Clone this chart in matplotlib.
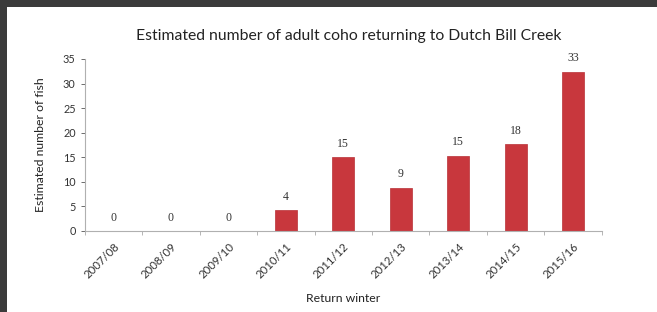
import matplotlib.pyplot as plt
from matplotlib.patches import Rectangle

# data
winters = ["2007/08", "2008/09", "2009/10", "2010/11", "2011/12",
           "2012/13", "2013/14", "2014/15", "2015/16"]
fish = [0, 0, 0, 4, 15, 9, 15, 18, 33]
# bar heights as drawn (labels are rounded counts)
bar_heights = [0, 0, 0, 4.2, 15, 8.8, 15.3, 17.6, 32.4]

plt.rcParams['font.family'] = ['Lato', 'DejaVu Sans']

fig = plt.figure(figsize=(6.57, 3.12), dpi=100)
fig.patch.set_facecolor('white')
# dark frame strips on top and left
fig.patches.append(Rectangle((0, 1 - 7 / 312), 1, 7 / 312, transform=fig.transFigure,
                             facecolor='#3b3b3b', edgecolor='none', zorder=-10))
fig.patches.append(Rectangle((0, 0), 7 / 657, 1, transform=fig.transFigure,
                             facecolor='#3b3b3b', edgecolor='none', zorder=-10))

ax = fig.add_axes([0.129, 0.26, 0.787, 0.551])
ax.set_facecolor('none')
x = list(range(len(winters)))
ax.bar(x, bar_heights, width=0.38, color='#c8373d', edgecolor='#b83036', linewidth=0.5)

for xi, h, v in zip(x, bar_heights, fish):
    ax.text(xi, h + 1.5, str(v), ha='center', va='bottom', fontsize=8.5,
            family='Liberation Serif', color='#333333')

ax.set_xlim(-0.5, len(winters) - 0.5)
ax.set_ylim(0, 35)
ax.set_yticks(range(0, 36, 5))
ax.tick_params(axis='y', labelsize=7.8, colors='#555555', length=3, width=0.6,
               labelcolor='#333333')

ax.set_xticks(x)
ax.set_xticklabels(winters, rotation=45, ha='right', rotation_mode='anchor', fontsize=8.2,
                   color='#333333')
ax.tick_params(axis='x', length=0, pad=7)
ax.set_xticks([i + 0.5 for i in range(-1, len(winters))], minor=True)
ax.tick_params(axis='x', which='minor', length=3, width=0.6, colors='#aaaaaa')

for side in ['top', 'right']:
    ax.spines[side].set_visible(False)
for side in ['left', 'bottom']:
    ax.spines[side].set_color('#b0b0b0')
    ax.spines[side].set_linewidth(0.8)

ax.set_ylabel("Estimated number of fish", fontsize=8.8, color='#222222', labelpad=12)
ax.set_xlabel("Return winter", fontsize=8.8, color='#222222', labelpad=9)
fig.text(0.53, 0.885, "Estimated number of adult coho returning to Dutch Bill Creek",
         ha='center', va='center', fontsize=11.3, color='#222222')

fig.savefig("out.png", dpi=100)
